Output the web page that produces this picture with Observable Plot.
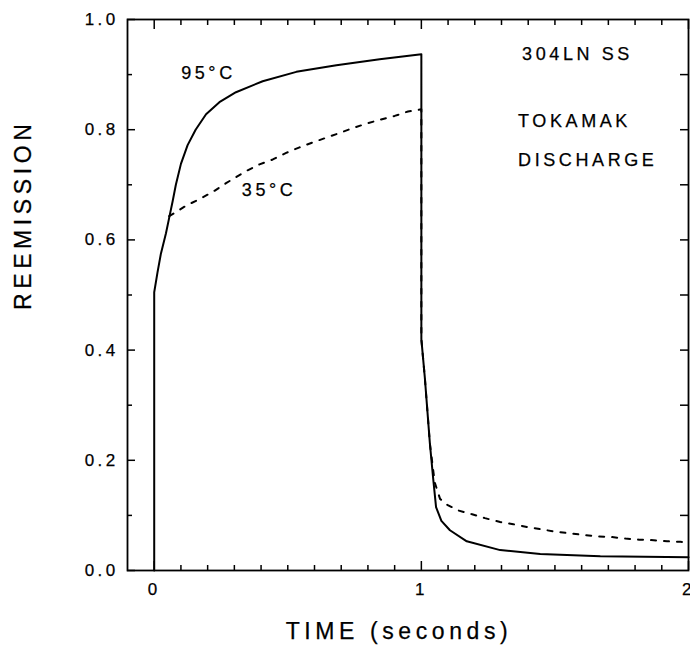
<!DOCTYPE html>
<html><head><meta charset="utf-8">
<script src="https://cdn.jsdelivr.net/npm/d3@7"></script>
<script src="https://cdn.jsdelivr.net/npm/@observablehq/plot@0.6"></script>
<style>body{margin:0;background:#fff}</style>
</head><body><div id="chart"></div>
<script>
// ---- data ----
const hotTime = [0, 0, 0.012, 0.025, 0.044, 0.056, 0.069, 0.081, 0.1, 0.125, 0.155, 0.194, 0.244, 0.306, 0.406, 0.532, 0.682, 0.844, 1.0,
                 1.0, 1.013, 1.032, 1.044, 1.055, 1.075, 1.107, 1.17, 1.295, 1.445, 1.67, 2.0];
const hotReem = [0, 0.505, 0.54, 0.575, 0.612, 0.64, 0.67, 0.7, 0.738, 0.772, 0.8, 0.828, 0.85, 0.868, 0.888, 0.905, 0.917, 0.928, 0.937,
                 0.42, 0.35, 0.23, 0.168, 0.115, 0.09, 0.073, 0.053, 0.037, 0.03, 0.026, 0.024];
const coldTime = [0.056, 0.119, 0.169, 0.219, 0.269, 0.344, 0.394, 0.444, 0.494, 0.544, 0.594, 0.694, 0.744, 0.794, 0.844, 0.9, 0.95, 1.0,
                  1.0, 1.013, 1.032, 1.05, 1.07, 1.094, 1.138, 1.19, 1.238, 1.295, 1.344, 1.395, 1.445, 1.495, 1.545, 1.6, 1.657, 1.707, 1.764, 1.814, 1.87, 1.92, 1.97, 2.0];
const coldReem = [0.643, 0.662, 0.674, 0.687, 0.703, 0.725, 0.737, 0.746, 0.758, 0.768, 0.777, 0.794, 0.803, 0.811, 0.818, 0.825, 0.833, 0.837,
                  0.42, 0.35, 0.23, 0.16, 0.13, 0.12, 0.109, 0.102, 0.095, 0.088, 0.084, 0.079, 0.075, 0.071, 0.068, 0.065, 0.062, 0.061, 0.058, 0.056, 0.055, 0.053, 0.052, 0.051];

const curveLabels = ["95°C", "35°C"];
const curveLabelTime = [0.203, 0.43];
const curveLabelReem = [0.903, 0.69];

const noteLabels = ["304LN SS", "TOKAMAK", "DISCHARGE"];
const noteTime = [1.377, 1.362, 1.362];
const noteReem = [0.937, 0.815, 0.745];

const xTickLabels = [0, 1, 2];
const yTickLabels = [0, 0.2, 0.4, 0.6, 0.8, 1.0];
const xTitle = "TIME (seconds)";
const yTitle = "REEMISSION";

// ---- tables ----
const hot = hotTime.map((t, i) => ({t, r: hotReem[i]}));
const cold = coldTime.map((t, i) => ({t, r: coldReem[i]}));
const curveNotes = curveLabels.map((label, i) => ({label, t: curveLabelTime[i], r: curveLabelReem[i]}));
const sideNotes = noteLabels.map((label, i) => ({label, t: noteTime[i], r: noteReem[i]}));

const xMinor = d3.range(1, 20).map(i => i / 10).filter(v => Math.abs(v - 1) > 1e-9);
const yMinor = d3.range(1, 10, 2).map(i => i / 10);
const yAll = d3.range(1, 10).map(i => i / 10);

const W = 690, H = 665, mL = 127, mR = 2, mT = 19, mB = 95;
const innerW = W - mL - mR, innerH = H - mT - mB;

const plot = Plot.plot({
  width: W, height: H,
  marginLeft: mL, marginRight: mR, marginTop: mT, marginBottom: mB,
  x: {domain: [-0.1, 2], label: null},
  y: {domain: [0, 1], label: null},
  style: {fontFamily: "'Liberation Sans', Arial, Helvetica, sans-serif", background: "#fff", color: "#000"},
  marks: [
    // inward ticks on all four sides
    Plot.tickX(xMinor, {x: d => d, insetTop: innerH - 5, strokeWidth: 1.5}),
    Plot.tickX(xTickLabels, {x: d => d, insetTop: innerH - 9, strokeWidth: 1.5}),
    Plot.tickX(xMinor, {x: d => d, insetBottom: innerH - 6, strokeWidth: 1.5}),
    Plot.tickX(xTickLabels, {x: d => d, insetBottom: innerH - 10, strokeWidth: 1.5}),
    Plot.tickY(yMinor, {y: d => d, insetRight: innerW - 5, strokeWidth: 1.5}),
    Plot.tickY(yTickLabels, {y: d => d, insetRight: innerW - 8, strokeWidth: 1.5}),
    Plot.tickY(yAll, {y: d => d, insetLeft: innerW - 8, strokeWidth: 1.5}),
    Plot.frame({strokeWidth: 1.8}),
    Plot.axisX(xTickLabels, {tickSize: 0, tickPadding: 12, fontSize: 17, tickFormat: d => String(d)}),
    Plot.axisY(yTickLabels, {tickSize: 0, tickPadding: 9, fontSize: 17, tickFormat: d => d.toFixed(1)}),
    Plot.line(hot, {x: "t", y: "r", strokeWidth: 2, curve: "linear"}),
    Plot.line(cold, {x: "t", y: "r", strokeWidth: 2, strokeDasharray: "5,8", curve: "linear"}),
    Plot.text(curveNotes, {x: "t", y: "r", text: "label", fontSize: 18, textAnchor: "middle"}),
    Plot.text(sideNotes, {x: "t", y: "r", text: "label", fontSize: 18, textAnchor: "start"}),
    Plot.text([yTitle], {text: d => d, frameAnchor: "left", dx: -104, dy: 15, rotate: -90, fontSize: 23}),
    Plot.text([xTitle], {text: d => d, frameAnchor: "bottom", dx: -9, dy: 61, fontSize: 23, lineAnchor: "middle"})
  ]
});

// wide, slightly heavy plotter-style lettering
plot.querySelectorAll("text").forEach(t => {
  const g = t.closest("[font-size]");
  const fs = g ? parseFloat(g.getAttribute("font-size")) : 10;
  t.setAttribute("letter-spacing", (fs * 0.2).toFixed(1));
  t.setAttribute("stroke", "#000");
  t.setAttribute("stroke-width", "0.25");
});

document.getElementById("chart").appendChild(plot);
</script>
</body></html>
